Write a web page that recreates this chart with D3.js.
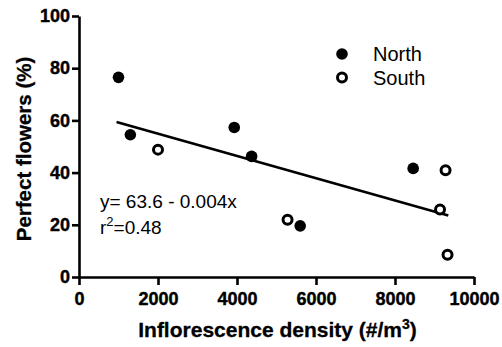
<!DOCTYPE html>
<html>
<head>
<meta charset="utf-8">
<script src="https://cdn.jsdelivr.net/npm/d3@7"></script>
<style>
  body { margin: 0; background: #fff; }
  svg { font-family: "Liberation Sans", Arial, Helvetica, sans-serif; }
  .axis path, .axis line { stroke: #000; stroke-width: 2.6px; }
  .axis text {
    font-family: "Liberation Sans", Arial, sans-serif;
    font-size: 18px;
    font-weight: bold;
    fill: #000;
    stroke: #000;
    stroke-width: 0.4px;
  }
</style>
</head>
<body>
<div id="chart"></div>
<script>
// Data
const northX = [1000, 1300, 3930, 4370, 5600, 8460];
const northY = [76.5, 54.5, 57.3, 46.2, 19.6, 41.6];
const southX = [2000, 5280, 9140, 9280, 9330];
const southY = [48.8, 21.9, 25.9, 40.9, 8.5];
const fitX = [950, 9350];
const fitY = [59.4, 23.6];
const xTicks = [0, 2000, 4000, 6000, 8000, 10000];
const yTicks = [0, 20, 40, 60, 80, 100];

const W = 502, H = 347;

const svg = d3.select("#chart")
  .append("svg")
  .attr("width", W)
  .attr("height", H);

// Scales
const x = d3.scaleLinear().domain([0, 10000]).range([79, 474]);
const y = d3.scaleLinear().domain([0, 100]).range([277, 16]);

// Axes
svg.append("g")
  .attr("class", "axis")
  .attr("transform", `translate(0,${y(0)})`)
  .call(d3.axisBottom(x).tickValues(xTicks).tickSize(8).tickSizeOuter(0).tickPadding(7).tickFormat(d3.format("d")));
svg.append("g")
  .attr("class", "axis")
  .attr("transform", `translate(${x(0)},0)`)
  .call(d3.axisLeft(y).tickValues(yTicks).tickSize(7).tickSizeOuter(0).tickPadding(2));

// Axis titles
svg.append("text")
  .attr("x", (x(0) + x(10000)) / 2 + 1)
  .attr("y", 337)
  .attr("text-anchor", "middle")
  .attr("stroke", "#000")
  .attr("stroke-width", 0.3)
  .style("font-size", "21px")
  .style("font-weight", "bold")
  .html('Inflorescence density (#/m<tspan dy="-8" font-size="14px">3</tspan><tspan dy="8">)</tspan>');

svg.append("text")
  .attr("transform", "translate(31,149) rotate(-90)")
  .attr("text-anchor", "middle")
  .attr("stroke", "#000")
  .attr("stroke-width", 0.3)
  .style("font-size", "20.5px")
  .style("font-weight", "bold")
  .text("Perfect flowers (%)");

// Regression line
const line = d3.line().x(d => x(d[0])).y(d => y(d[1]));
svg.append("path")
  .datum(d3.zip(fitX, fitY))
  .attr("d", line)
  .attr("fill", "none")
  .attr("stroke", "#000")
  .attr("stroke-width", 2.6);

// Points
svg.selectAll(".north")
  .data(d3.zip(northX, northY))
  .enter().append("circle")
  .attr("class", "north")
  .attr("cx", d => x(d[0]))
  .attr("cy", d => y(d[1]))
  .attr("r", 5.8)
  .attr("fill", "#000");

svg.selectAll(".south")
  .data(d3.zip(southX, southY))
  .enter().append("circle")
  .attr("class", "south")
  .attr("cx", d => x(d[0]))
  .attr("cy", d => y(d[1]))
  .attr("r", 4.5)
  .attr("fill", "#fff")
  .attr("stroke", "#000")
  .attr("stroke-width", 3);

// Legend
const legend = svg.append("g").attr("transform", "translate(342,54)");
legend.append("circle").attr("r", 5.8).attr("fill", "#000");
legend.append("text").attr("x", 31).attr("y", 7).style("font-size", "20px").text("North");
legend.append("circle").attr("cy", 23.5).attr("r", 4.5)
  .attr("fill", "#fff").attr("stroke", "#000").attr("stroke-width", 3);
legend.append("text").attr("x", 31).attr("y", 30.5).style("font-size", "20px").text("South");

// Equation
const eq = svg.append("g").style("font-size", "19px");
eq.append("text").attr("x", 100).attr("y", 208).text("y= 63.6 - 0.004x");
eq.append("text").attr("x", 100).attr("y", 234)
  .html('r<tspan dy="-8" font-size="13px">2</tspan><tspan dy="8">=0.48</tspan>');
</script>
</body>
</html>
